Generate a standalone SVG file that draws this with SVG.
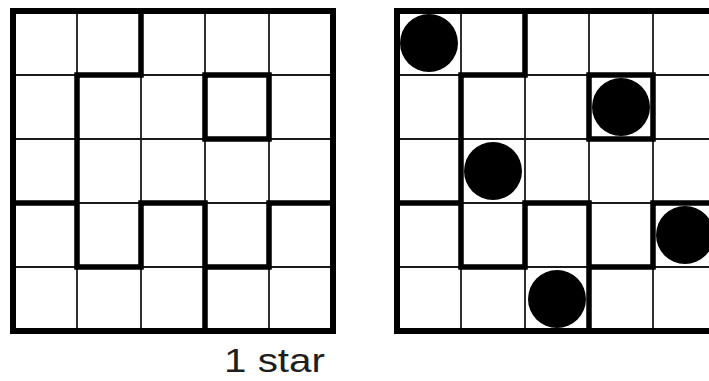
<svg xmlns="http://www.w3.org/2000/svg" xmlns:xlink="http://www.w3.org/1999/xlink" width="709" height="381" viewBox="0 0 709 381">
  <style>
    .thin { stroke: #1a1a1a; stroke-width: 1.8; fill: none; }
    .wall { stroke: #000; stroke-width: 5.5; fill: none; stroke-linecap: square; stroke-linejoin: miter; }
    .border { stroke: #000; stroke-width: 6; fill: none; }
    .star { fill: #000; }
    .label { font-family: "Liberation Sans", Arial, sans-serif; font-size: 33px; fill: #1e1e1e; }
  </style>
  <defs>
    <g id="grid">
      <rect x="0" y="0" width="320" height="320" fill="#fff"/>
      <path class="thin" d="M64 0V320M128 0V320M192 0V320M256 0V320M0 64H320M0 128H320M0 192H320M0 256H320"/>
      <path class="wall" d="M128 0V64H64V256M192 64H256V128H192Z M0 192H64 M64 256H128V192H192V320 M192 256H256V192H320"/>
      <rect class="border" x="0" y="0" width="320" height="320"/>
    </g>
  </defs>
  <rect width="709" height="381" fill="#fff"/>
  <g id="puzzle">
    <use xlink:href="#grid" transform="translate(13,11)"/>
  </g>
  <g id="solution">
    <use xlink:href="#grid" transform="translate(397,11)"/>
    <circle class="star" cx="429" cy="43" r="29"/>
    <circle class="star" cx="621" cy="107" r="29"/>
    <circle class="star" cx="493" cy="171" r="29"/>
    <circle class="star" cx="685" cy="235" r="29"/>
    <circle class="star" cx="557" cy="299" r="29"/>
  </g>
  <text class="label" x="224" y="372" textLength="101" lengthAdjust="spacingAndGlyphs">1 star</text>
</svg>
